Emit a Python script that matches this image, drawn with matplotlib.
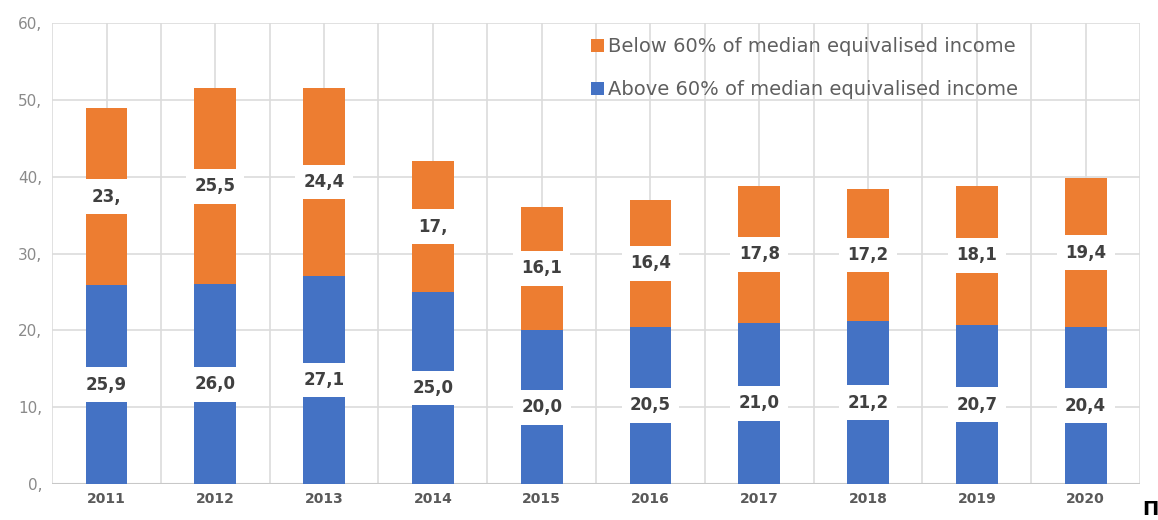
import numpy as np
import matplotlib.pyplot as plt

# valores
years = ["2011", "2012", "2013", "2014", "2015", "2016", "2017", "2018", "2019", "2020"]
above = [25.9, 26.0, 27.1, 25.0, 20.0, 20.5, 21.0, 21.2, 20.7, 20.4]
below = [23.0, 25.5, 24.4, 17.0, 16.1, 16.4, 17.8, 17.2, 18.1, 19.4]
below_text = ["23,", "25,5", "24,4", "17,", "16,1", "16,4", "17,8", "17,2", "18,1", "19,4"]
yticks = [0, 10, 20, 30, 40, 50, 60]

BLUE = "#4472C4"
ORANGE = "#ED7D31"

fig = plt.figure(figsize=(11.58, 5.2), dpi=100)
ax = fig.add_axes([0.045, 0.069, 0.9395, 0.887])

x = np.arange(len(years))
w = 0.385
ax.bar(x, above, w, color=BLUE, zorder=2, label="Above 60% of median equivalised income")
ax.bar(x, below, w, bottom=above, color=ORANGE, zorder=2,
       label="Below 60% of median equivalised income")

box = dict(boxstyle="square,pad=0.5", fc="white", ec="none")
for i in range(len(years)):
    ax.text(x[i], above[i] / 2, f"{above[i]:.1f}".replace(".", ","), ha="center", va="center",
            fontsize=12, fontweight="bold", color="#404040", bbox=box, zorder=3)
    ax.text(x[i], above[i] + below[i] / 2, below_text[i], ha="center", va="center",
            fontsize=12, fontweight="bold", color="#404040", bbox=box, zorder=3)

ax.set_xlim(-0.5, len(years) - 0.5)
ax.set_ylim(0, 60)
ax.set_yticks(yticks)
ax.set_yticklabels([f"{v}," for v in yticks], fontsize=11, color="#8a8a8a")
ax.set_xticks(x)
ax.set_xticklabels(years, fontsize=10, fontweight="bold", color="#595959")
ax.tick_params(length=0)
ax.tick_params(axis="y", pad=7)
ax.tick_params(axis="x", pad=6)

# rejilla: horizontales cada 10, verticales en centros y limites
for v in yticks:
    ax.axhline(v, color="#dcdcdc", lw=1.2, zorder=0)
for v in np.arange(-0.5, len(years), 0.5):
    ax.axvline(v, color="#dcdcdc", lw=1.2, zorder=0)
ax.axhline(0, color="#c8c8c8", lw=1.5, zorder=1)
for s in ax.spines.values():
    s.set_visible(False)

h, l = ax.get_legend_handles_labels()
ax.legend(h[::-1], l[::-1], loc="upper left", bbox_to_anchor=(591 / 1158, 1 - 37 / 520),
          bbox_transform=fig.transFigure, frameon=False, fontsize=14, labelcolor="#5f5f5f",
          handlelength=0.65, handleheight=0.65, handletextpad=0.25, labelspacing=1.25,
          borderpad=0, borderaxespad=0)

fig.text(1150 / 1158, 1 / 520, "П", ha="center", va="bottom", fontsize=14,
         fontweight="bold", color="black")

fig.savefig("out.png", dpi=100)
